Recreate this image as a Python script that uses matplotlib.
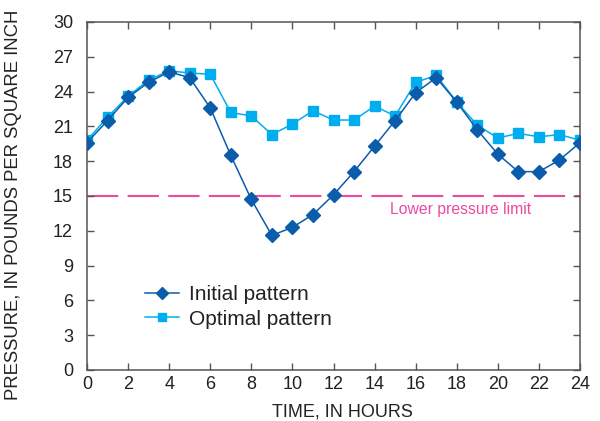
import numpy as np
import matplotlib
matplotlib.use("Agg")
import matplotlib.pyplot as plt

plt.rcParams['font.family'] = ['Liberation Sans', 'DejaVu Sans']

# 数据
hours = list(range(25))
initial = [19.6, 21.5, 23.5, 24.8, 25.7, 25.2, 22.6, 18.5, 14.7, 11.6, 12.3, 13.4, 15.1,
           17.1, 19.3, 21.5, 23.9, 25.2, 23.1, 20.7, 18.6, 17.1, 17.1, 18.1, 19.6]
optimal = [19.8, 21.8, 23.6, 25.0, 25.8, 25.6, 25.5, 22.2, 21.9, 20.3, 21.2, 22.35, 21.55,
           21.55, 22.75, 21.9, 24.8, 25.4, 23.1, 21.1, 20.0, 20.4, 20.1, 20.3, 19.8]
limit = 15
x_ticks = list(range(0, 25, 2))
y_ticks = list(range(0, 31, 3))

c_init = '#0b5cab'
c_opt = '#00aeef'
c_lim = '#ec4aa0'
c_axis = '#555555'
c_text = '#222222'

fig = plt.figure(figsize=(6, 4.21), dpi=100)
ax = fig.add_axes([87 / 600, 1 - 370 / 421, (580 - 87) / 600, (370 - 22) / 421])

ax.axhline(limit, color=c_lim, lw=1.5, dashes=(15, 4.5), zorder=1)
ax.text(18.2, limit - 0.5, 'Lower pressure limit', color=c_lim, fontsize=11.3,
        ha='center', va='top')

ax.plot(hours, optimal, color=c_opt, marker='s', markersize=7.5, lw=1.1,
        label='Optimal pattern', zorder=2)
ax.plot(hours, initial, color=c_init, marker='D', markersize=7.5, lw=1.1,
        label='Initial pattern', zorder=3)

ax.set_xlim(0, 24)
ax.set_ylim(0, 30)
ax.set_xticks(x_ticks)
ax.set_yticks(y_ticks)
ax.tick_params(direction='in', length=5, width=1, color=c_axis, labelsize=13,
               labelcolor=c_text, top=True, right=True, labeltop=False,
               labelright=False)
ax.tick_params(axis='x', pad=4)
ax.tick_params(axis='y', pad=10)
for s in ax.spines.values():
    s.set_color(c_axis)
    s.set_linewidth(1.1)

ax.set_xlabel('TIME, IN HOURS', fontsize=13, color=c_text, labelpad=6)
ax.xaxis.set_label_coords(0.518, -0.095)
ax.set_ylabel('PRESSURE, IN POUNDS PER SQUARE INCH', fontsize=13.3, color=c_text)
ax.yaxis.set_label_coords(-0.132, 0.475)

handles, labels = ax.get_legend_handles_labels()
ax.legend(handles[::-1], labels[::-1], loc='lower left', bbox_to_anchor=(0.08, 0.065),
          frameon=False, fontsize=15, handlelength=1.6, handletextpad=0.5,
          labelspacing=0.25, markerscale=0.75, labelcolor=c_text)

fig.savefig('out.png', dpi=100)
